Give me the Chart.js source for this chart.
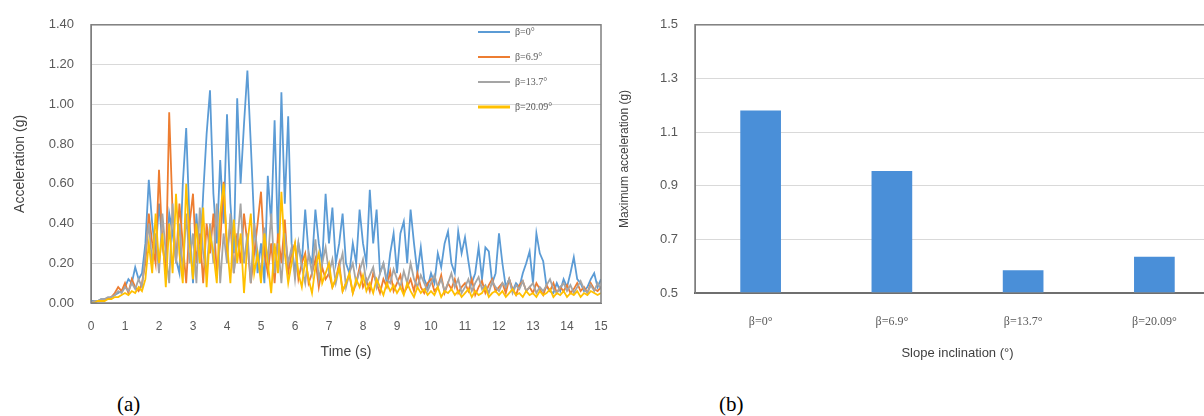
<!DOCTYPE html>
<html>
<head>
<meta charset="utf-8">
<script src="https://cdn.jsdelivr.net/npm/chart.js@4"></script>
<style>
  html, body { margin: 0; padding: 0; background: #fff; overflow: hidden; }
  body { width: 1204px; height: 416px; position: relative; }
  .box { position: absolute; }
  .cap { position: absolute; font-family: "Liberation Serif", "DejaVu Serif", serif; font-size: 21px; color: #000; }
</style>
</head>
<body>
<div class="box" style="left:0;top:0;width:620px;height:365px"><canvas id="grafA"></canvas></div>
<div class="box" style="left:605px;top:0;width:615px;height:365px"><canvas id="grafB"></canvas></div>
<div class="cap" style="left:117px;top:392px">(a)</div>
<div class="cap" style="left:719px;top:392px">(b)</div>
<script>
// ---- dados (a): aceleração no tempo, passo 0.1 s ----
const passo = 0.1;
const series = ['β=0°', 'β=6.9°', 'β=13.7°', 'β=20.09°'];
const cores = ['#5B9BD5', '#ED7D31', '#A5A5A5', '#FFC000'];

const acel0 = [
  0.01,0.01,0.01,0.02,0.02,0.02,0.03,0.04,0.05,0.06,
  0.08,0.12,0.10,0.18,0.12,0.15,0.30,0.62,0.40,0.25,
  0.50,0.30,0.18,0.45,0.35,0.22,0.15,0.60,0.88,0.40,
  0.10,0.45,0.20,0.55,0.85,1.07,0.55,0.30,0.72,0.40,
  0.95,0.50,0.25,1.03,0.60,0.90,1.17,0.80,0.40,0.15,
  0.30,0.10,0.64,0.40,0.92,0.30,1.06,0.50,0.94,0.30,
  0.15,0.30,0.20,0.47,0.25,0.20,0.47,0.30,0.20,0.55,
  0.30,0.48,0.20,0.30,0.45,0.20,0.15,0.30,0.20,0.47,
  0.30,0.20,0.57,0.30,0.47,0.15,0.20,0.10,0.25,0.35,
  0.15,0.35,0.41,0.20,0.47,0.30,0.15,0.28,0.12,0.08,
  0.15,0.10,0.25,0.18,0.30,0.36,0.20,0.15,0.36,0.25,
  0.33,0.21,0.10,0.15,0.28,0.12,0.28,0.26,0.10,0.15,
  0.35,0.20,0.08,0.12,0.06,0.10,0.08,0.15,0.20,0.26,
  0.10,0.35,0.25,0.21,0.08,0.06,0.05,0.10,0.06,0.12,
  0.08,0.15,0.23,0.12,0.10,0.06,0.08,0.12,0.15,0.08,
  0.12
];
const acel69 = [
  0.00,0.01,0.01,0.01,0.02,0.02,0.03,0.05,0.08,0.06,
  0.10,0.05,0.12,0.08,0.06,0.10,0.20,0.45,0.30,0.20,
  0.67,0.30,0.15,0.96,0.45,0.20,0.50,0.30,0.10,0.40,
  0.55,0.20,0.35,0.10,0.40,0.25,0.45,0.15,0.30,0.61,
  0.25,0.40,0.15,0.35,0.20,0.45,0.30,0.10,0.25,0.40,
  0.56,0.25,0.15,0.30,0.10,0.35,0.20,0.42,0.15,0.25,
  0.30,0.12,0.20,0.25,0.10,0.15,0.22,0.08,0.18,0.12,
  0.15,0.08,0.12,0.20,0.06,0.10,0.14,0.05,0.10,0.18,
  0.08,0.12,0.06,0.15,0.10,0.05,0.12,0.08,0.16,0.06,
  0.10,0.14,0.05,0.08,0.12,0.06,0.15,0.08,0.05,0.10,
  0.12,0.06,0.08,0.14,0.05,0.10,0.07,0.12,0.05,0.08,
  0.10,0.06,0.12,0.04,0.08,0.11,0.05,0.09,0.12,0.06,
  0.08,0.10,0.05,0.12,0.07,0.04,0.09,0.11,0.06,0.08,
  0.05,0.10,0.07,0.04,0.09,0.06,0.10,0.05,0.08,0.06,
  0.09,0.05,0.07,0.10,0.06,0.08,0.05,0.10,0.07,0.06,
  0.08
];
const acel137 = [
  0.00,0.01,0.01,0.02,0.02,0.03,0.03,0.04,0.06,0.05,
  0.08,0.06,0.10,0.07,0.12,0.08,0.25,0.40,0.20,0.35,
  0.15,0.45,0.25,0.10,0.50,0.20,0.40,0.15,0.45,0.20,
  0.35,0.10,0.48,0.25,0.15,0.40,0.20,0.50,0.10,0.35,
  0.20,0.45,0.15,0.30,0.50,0.20,0.35,0.10,0.40,0.25,
  0.15,0.38,0.20,0.45,0.15,0.30,0.10,0.35,0.20,0.28,
  0.12,0.30,0.18,0.10,0.25,0.15,0.32,0.12,0.20,0.28,
  0.15,0.22,0.10,0.18,0.25,0.08,0.15,0.20,0.10,0.16,
  0.22,0.10,0.14,0.18,0.08,0.15,0.20,0.12,0.10,0.17,
  0.12,0.08,0.16,0.10,0.20,0.12,0.08,0.14,0.10,0.06,
  0.10,0.14,0.08,0.12,0.06,0.10,0.15,0.08,0.12,0.05,
  0.08,0.12,0.06,0.10,0.13,0.07,0.09,0.05,0.11,0.08,
  0.06,0.10,0.08,0.12,0.05,0.09,0.07,0.11,0.06,0.08,
  0.10,0.05,0.08,0.06,0.09,0.12,0.07,0.05,0.08,0.10,
  0.06,0.09,0.05,0.08,0.11,0.07,0.05,0.09,0.06,0.10,
  0.07
];
const acel2009 = [
  0.00,0.00,0.01,0.01,0.01,0.02,0.02,0.03,0.03,0.04,
  0.05,0.04,0.06,0.05,0.08,0.06,0.12,0.30,0.15,0.45,
  0.20,0.35,0.08,0.40,0.15,0.55,0.25,0.10,0.60,0.30,
  0.12,0.40,0.20,0.48,0.08,0.35,0.25,0.10,0.45,0.60,
  0.30,0.10,0.42,0.20,0.35,0.05,0.30,0.45,0.15,0.25,
  0.10,0.35,0.20,0.05,0.30,0.15,0.56,0.25,0.10,0.20,
  0.30,0.15,0.08,0.22,0.12,0.05,0.18,0.25,0.10,0.15,
  0.20,0.08,0.12,0.18,0.06,0.10,0.15,0.05,0.12,0.08,
  0.14,0.06,0.10,0.05,0.12,0.08,0.04,0.10,0.06,0.09,
  0.05,0.08,0.04,0.10,0.06,0.03,0.08,0.05,0.07,0.04,
  0.06,0.04,0.08,0.03,0.06,0.05,0.07,0.04,0.06,0.03,
  0.05,0.07,0.03,0.06,0.04,0.05,0.08,0.03,0.05,0.06,
  0.04,0.06,0.03,0.05,0.07,0.04,0.05,0.03,0.06,0.04,
  0.05,0.03,0.06,0.04,0.05,0.07,0.03,0.05,0.04,0.06,
  0.03,0.05,0.04,0.06,0.03,0.05,0.04,0.06,0.05,0.04,
  0.05
];

// ---- dados (b): aceleração máxima ----
const inclinacoes = ['β=0°', 'β=6.9°', 'β=13.7°', 'β=20.09°'];
const acelMax = [1.18, 0.955, 0.585, 0.635];

const cinzaTexto = '#595959';
const sans = '"Liberation Sans", Arial, sans-serif';
const serif = '"Liberation Serif", "Times New Roman", serif';

// moldura do gráfico
const moldura = {
  id: 'moldura',
  afterDraw(chart) {
    const a = chart.chartArea, c = chart.ctx;
    c.save();
    c.strokeStyle = '#7f7f7f';
    c.lineWidth = 1.5;
    c.strokeRect(a.left, a.top, a.right - a.left, a.bottom - a.top);
    c.restore();
  }
};

// legenda dentro da área do gráfico (a)
const legendaDentro = {
  id: 'legendaDentro',
  afterDraw(chart) {
    const c = chart.ctx;
    c.save();
    c.font = '10px ' + serif;
    c.textBaseline = 'middle';
    chart.data.datasets.forEach((ds, i) => {
      const y = 32 + i * 25;
      c.strokeStyle = ds.borderColor;
      c.lineWidth = i === 3 ? 3 : 2;
      c.beginPath();
      c.moveTo(478, y);
      c.lineTo(510, y);
      c.stroke();
      c.fillStyle = cinzaTexto;
      c.fillText(ds.label, 515, y);
    });
    c.restore();
  }
};

const ptsDe = arr => arr.map((v, i) => ({ x: +(i * passo).toFixed(1), y: v }));
const valores = [acel0, acel69, acel137, acel2009];

const dadosA = {
  datasets: series.map((s, i) => ({
    label: s,
    data: ptsDe(valores[i]),
    borderColor: cores[i],
    backgroundColor: cores[i],
    borderWidth: 1.8,
    pointRadius: 0,
    tension: 0,
    order: 3 - i
  }))
};

new Chart(document.getElementById('grafA'), {
  type: 'line',
  data: dadosA,
  options: {
    responsive: true,
    maintainAspectRatio: false,
    animation: false,
    layout: { padding: { top: 21, right: 19, left: 0, bottom: 0 } },
    plugins: { legend: { display: false }, tooltip: { enabled: false } },
    scales: {
      x: {
        type: 'linear', min: 0, max: 15,
        grid: { display: false },
        border: { color: '#7f7f7f' },
        ticks: { stepSize: 1, padding: 8, color: cinzaTexto, font: { family: sans, size: 12 }, maxRotation: 0 },
        title: { display: true, text: 'Time (s)', color: '#404040', font: { family: sans, size: 14 }, padding: { top: 4 } },
        afterFit(s) { s.height = 62; s.paddingRight = 0; s.paddingLeft = 0; }
      },
      y: {
        min: 0, max: 1.4,
        grid: { color: '#d9d9d9', drawTicks: false },
        border: { color: '#7f7f7f' },
        ticks: { stepSize: 0.2, padding: 17, color: cinzaTexto, font: { family: sans, size: 13 }, callback: v => v.toFixed(2) },
        title: { display: true, text: 'Acceleration (g)', color: '#404040', font: { family: sans, size: 14 }, padding: { top: 12, bottom: 0 } },
        afterFit(s) { s.width = 91; }
      }
    }
  },
  plugins: [moldura, legendaDentro]
});

new Chart(document.getElementById('grafB'), {
  type: 'bar',
  data: {
    labels: inclinacoes,
    datasets: [{
      label: 'Maximum acceleration',
      data: acelMax,
      backgroundColor: '#4A8FD8',
      borderWidth: 0,
      barPercentage: 0.31,
      categoryPercentage: 1
    }]
  },
  options: {
    responsive: true,
    maintainAspectRatio: false,
    animation: false,
    layout: { padding: { top: 20, right: 0, left: 0, bottom: 0 } },
    plugins: { legend: { display: false }, tooltip: { enabled: false } },
    scales: {
      x: {
        grid: { display: false },
        border: { color: '#404040', width: 2 },
        ticks: { padding: 14, color: cinzaTexto, font: { family: serif, size: 12 }, maxRotation: 0 },
        title: { display: true, text: 'Slope inclination (°)', color: '#404040', font: { family: sans, size: 13 }, padding: { top: 8 } },
        afterFit(s) { s.height = 72; }
      },
      y: {
        min: 0.5, max: 1.5,
        grid: { color: '#d9d9d9', drawTicks: false },
        border: { color: '#7f7f7f' },
        ticks: { stepSize: 0.2, padding: 17, color: cinzaTexto, font: { family: sans, size: 13 }, callback: v => v.toFixed(1) },
        title: { display: true, text: 'Maximum acceleration (g)', color: '#404040', font: { family: sans, size: 12 }, padding: { top: 12, bottom: 0 } },
        afterFit(s) { s.width = 90; }
      }
    }
  },
  plugins: [moldura]
});
</script>
</body>
</html>
